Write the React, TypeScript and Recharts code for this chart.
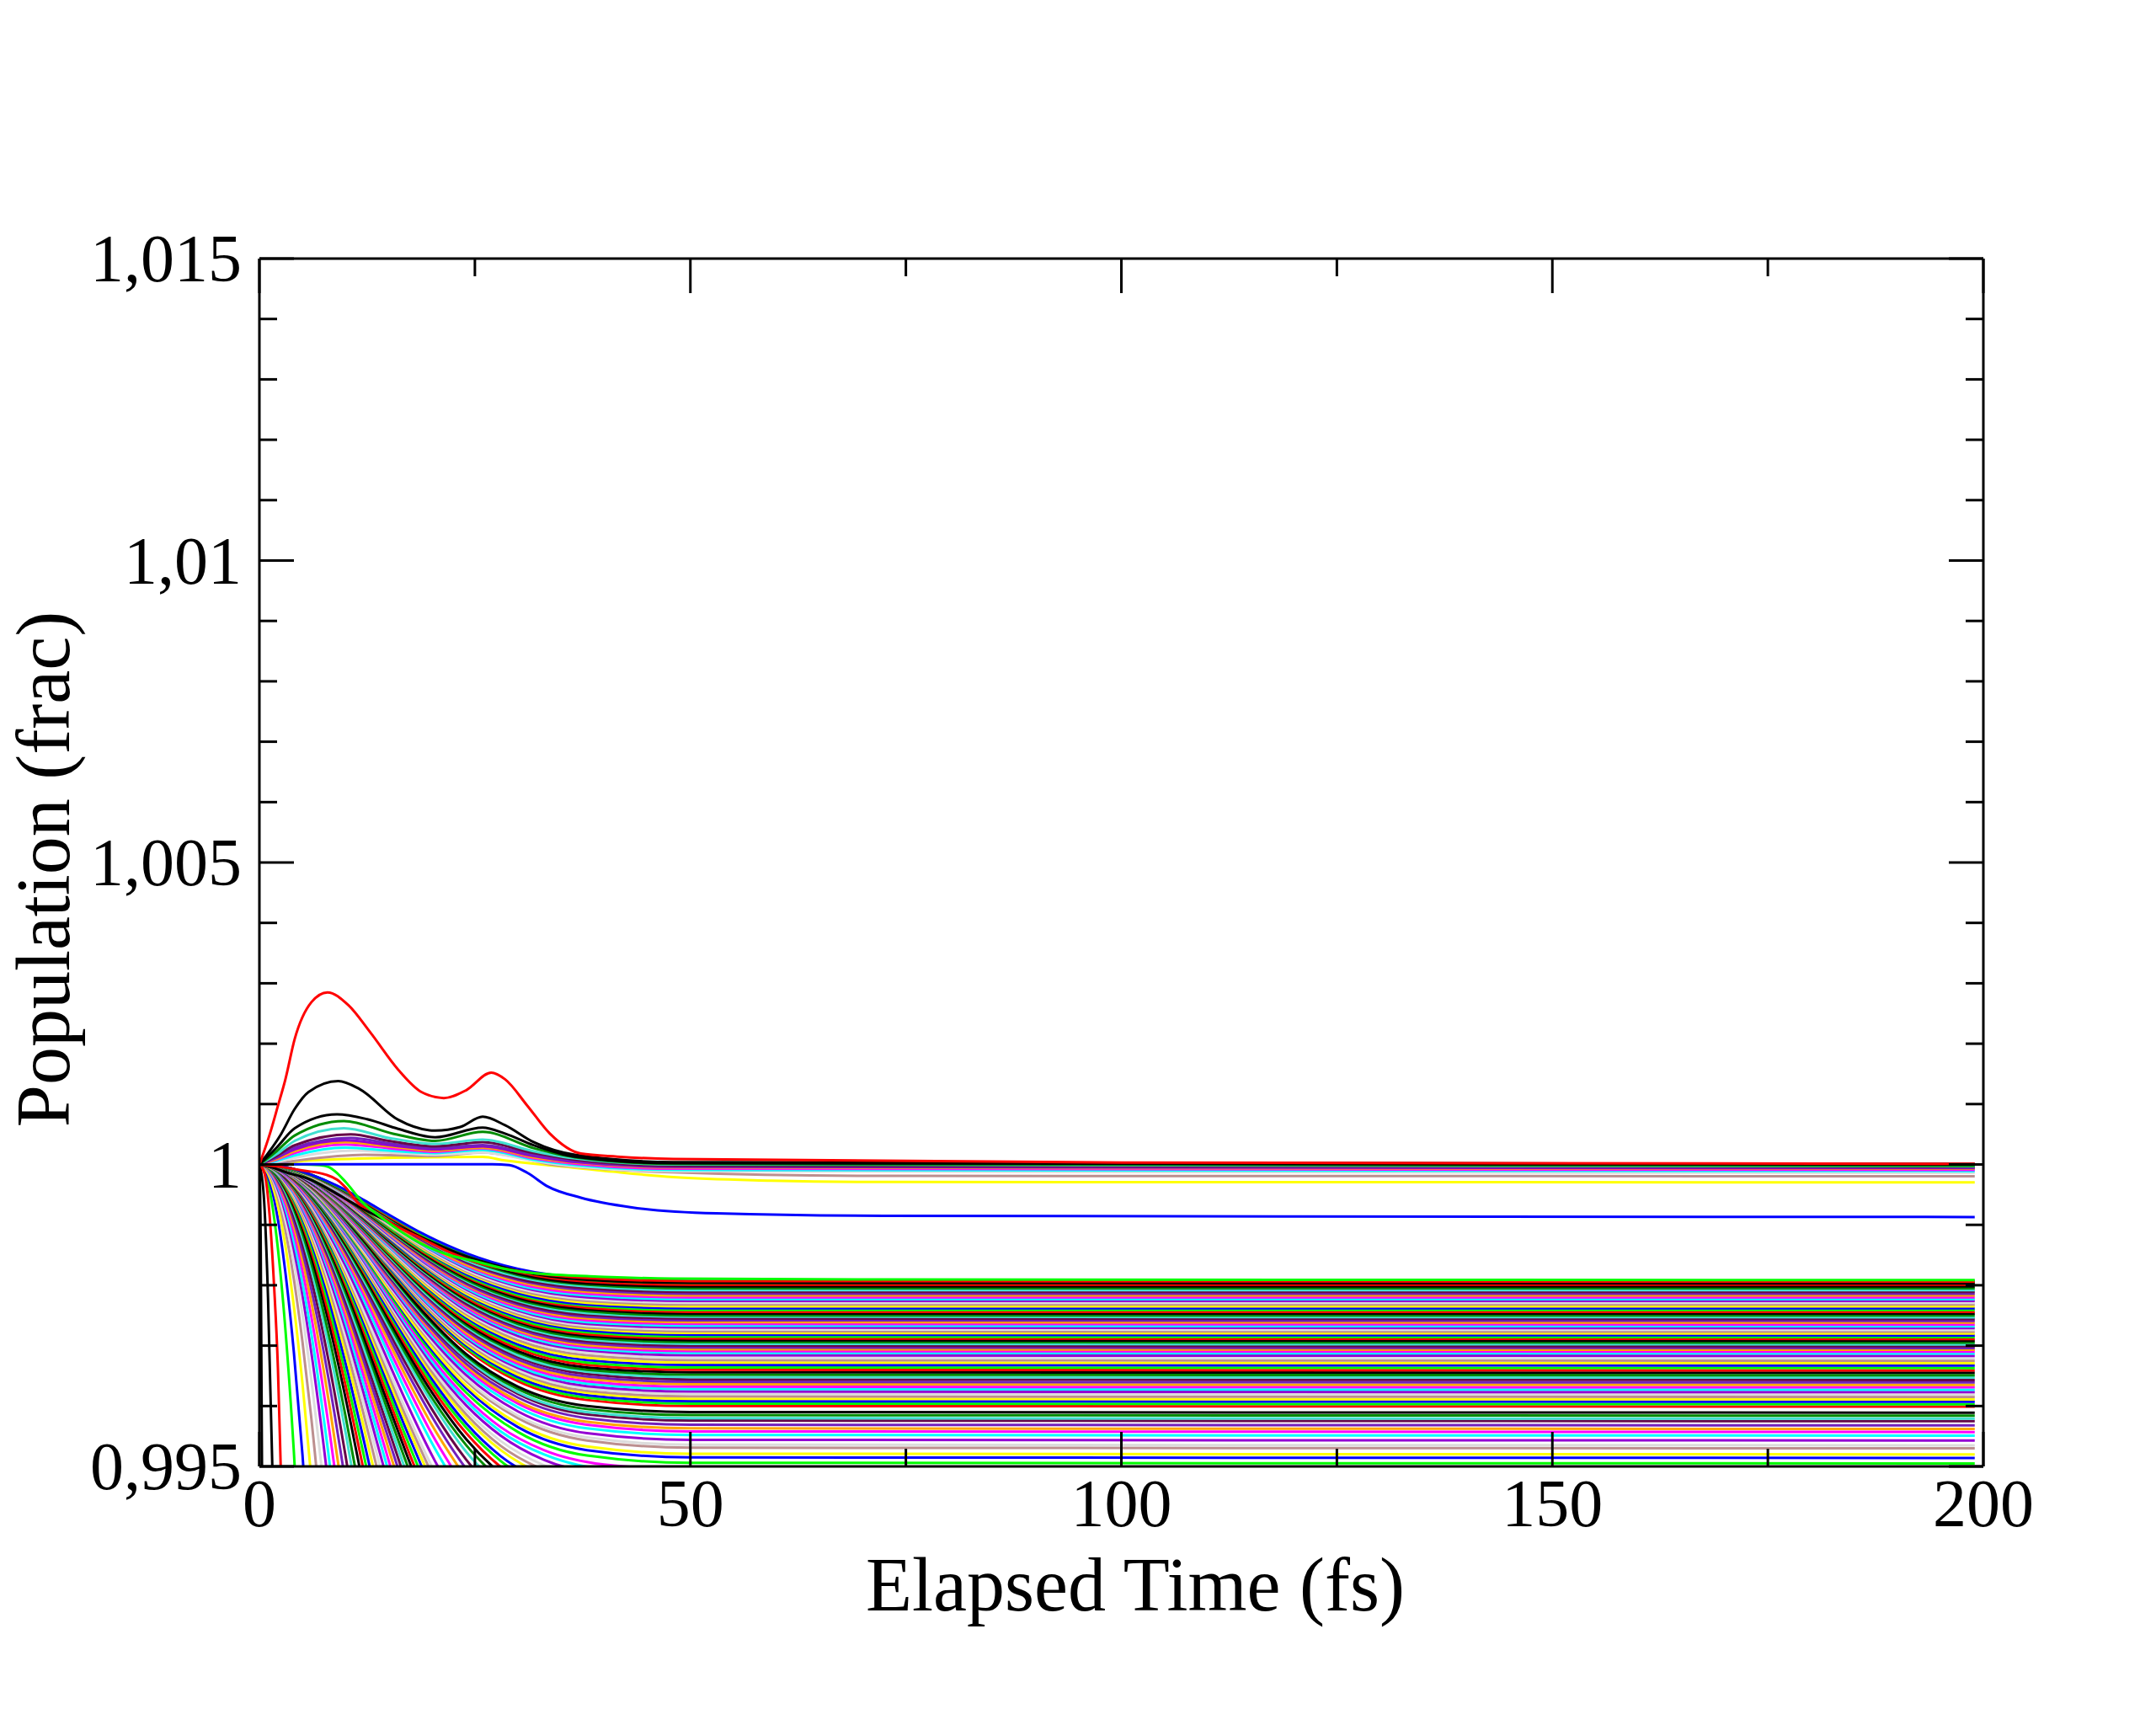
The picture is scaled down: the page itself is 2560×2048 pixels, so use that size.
import React from 'react';
import { LineChart, Line, XAxis, YAxis } from 'recharts';

const W = 2560;
const H = 2048;
const FONT = '"Liberation Serif", "Times New Roman", serif';

// xmgrace default colour map (black .. green4)
const palette = [
  '#000000', '#ff0000', '#00ff00', '#0000ff', '#ffff00', '#bc8f8f', '#dcdcdc', '#9400d3',
  '#00ffff', '#ff00ff', '#ffa500', '#7220bc', '#670748', '#40e0d0', '#008b00',
];

const xTicks = [0, 25, 50, 75, 100, 125, 150, 175, 200];
const xLabels = ['0', '', '50', '', '100', '', '150', '', '200'];
const yTicks = [
  0.995, 0.996, 0.997, 0.998, 0.999, 1, 1.001, 1.002, 1.003, 1.004, 1.005,
  1.006, 1.007, 1.008, 1.009, 1.01, 1.011, 1.012, 1.013, 1.014, 1.015,
];
const yLabels = [
  '0,995', '', '', '', '', '1', '', '', '', '', '1,005',
  '', '', '', '', '1,01', '', '', '', '', '1,015',
];

// populations that settle inside the window, deficit below 1 in units of 1e-5
const plateauTimes = [0, 3, 6, 9, 12, 15, 19, 24, 30, 38, 50, 199];
const plateauRows = [
  [0, 11, 43, 91, 150, 213, 294, 378, 443, 482, 494, 495],
  [0, 11, 42, 89, 147, 209, 289, 371, 435, 473, 485, 486],
  [0, 11, 41, 88, 145, 207, 285, 366, 429, 467, 479, 480],
  [0, 10, 40, 86, 142, 202, 279, 359, 420, 457, 469, 470],
  [0, 10, 40, 85, 141, 200, 276, 355, 416, 452, 464, 465],
  [0, 10, 39, 84, 138, 197, 272, 349, 409, 445, 456, 457],
  [0, 10, 39, 82, 136, 193, 267, 343, 402, 437, 448, 449],
  [0, 10, 38, 81, 134, 191, 263, 338, 396, 431, 442, 443],
  [0, 10, 38, 80, 132, 188, 260, 334, 392, 426, 437, 438],
  [0, 10, 37, 79, 131, 186, 257, 330, 386, 420, 431, 432],
  [0, 9, 37, 78, 128, 183, 253, 324, 380, 414, 424, 425],
  [0, 9, 36, 77, 127, 181, 250, 321, 377, 410, 420, 421],
  [0, 9, 36, 76, 126, 179, 247, 317, 372, 405, 415, 416],
  [0, 9, 35, 75, 124, 177, 244, 314, 368, 400, 410, 411],
  [0, 9, 35, 74, 121, 173, 238, 306, 359, 390, 400, 401],
  [0, 9, 34, 73, 120, 171, 236, 303, 355, 386, 396, 397],
  [0, 9, 34, 72, 119, 169, 234, 300, 352, 382, 392, 393],
  [0, 9, 33, 71, 118, 167, 231, 297, 348, 378, 388, 389],
  [0, 9, 33, 71, 116, 166, 229, 294, 344, 375, 384, 385],
  [0, 8, 33, 70, 115, 164, 226, 291, 341, 371, 380, 381],
  [0, 8, 32, 69, 114, 162, 224, 288, 337, 367, 376, 377],
  [0, 8, 32, 68, 113, 160, 222, 285, 334, 363, 372, 373],
  [0, 8, 32, 68, 112, 159, 219, 282, 330, 359, 368, 369],
  [0, 8, 31, 67, 110, 157, 217, 279, 327, 355, 364, 365],
  [0, 8, 31, 66, 109, 155, 215, 275, 323, 351, 360, 361],
  [0, 8, 31, 65, 108, 154, 212, 272, 319, 347, 356, 357],
  [0, 8, 30, 65, 107, 152, 210, 269, 316, 343, 352, 353],
  [0, 8, 30, 64, 106, 150, 207, 266, 312, 340, 348, 349],
  [0, 8, 30, 63, 104, 148, 205, 263, 309, 336, 344, 345],
  [0, 8, 29, 63, 103, 147, 203, 260, 305, 332, 340, 341],
  [0, 7, 29, 62, 102, 145, 200, 257, 301, 328, 336, 337],
  [0, 7, 29, 61, 101, 143, 198, 254, 298, 324, 332, 333],
  [0, 7, 28, 60, 99, 142, 196, 251, 294, 320, 328, 329],
  [0, 7, 28, 60, 98, 140, 193, 248, 291, 316, 324, 325],
  [0, 7, 28, 59, 97, 138, 191, 245, 287, 312, 320, 321],
  [0, 7, 27, 58, 96, 136, 188, 242, 284, 308, 316, 317],
  [0, 7, 27, 57, 95, 135, 186, 239, 280, 305, 312, 313],
  [0, 7, 27, 57, 94, 133, 184, 237, 277, 302, 309, 310],
  [0, 7, 26, 56, 93, 132, 182, 234, 275, 299, 306, 307],
  [0, 7, 26, 56, 92, 131, 181, 232, 272, 296, 303, 304],
  [0, 7, 26, 55, 91, 129, 179, 230, 269, 293, 300, 301],
  [0, 7, 26, 55, 90, 128, 177, 227, 267, 290, 297, 298],
  [0, 7, 25, 54, 89, 127, 175, 225, 264, 287, 294, 295],
  [0, 6, 25, 54, 88, 126, 174, 223, 261, 284, 291, 292],
  [0, 6, 25, 53, 87, 124, 172, 221, 259, 281, 288, 289],
  [0, 6, 25, 52, 86, 123, 170, 218, 256, 278, 285, 286],
  [0, 6, 24, 52, 86, 122, 168, 216, 253, 275, 282, 283],
  [0, 6, 24, 51, 85, 120, 166, 214, 250, 272, 279, 280],
  [0, 6, 24, 51, 84, 119, 165, 211, 248, 270, 276, 277],
  [0, 6, 24, 50, 83, 118, 163, 209, 245, 267, 273, 274],
  [0, 6, 23, 50, 82, 117, 161, 207, 242, 264, 270, 271],
  [0, 6, 23, 49, 81, 115, 159, 205, 240, 261, 267, 268],
  [0, 6, 23, 49, 80, 114, 158, 202, 237, 258, 264, 265],
  [0, 6, 23, 48, 79, 113, 156, 200, 234, 255, 261, 262],
  [0, 6, 22, 47, 78, 111, 154, 198, 232, 252, 258, 259],
  [0, 6, 22, 47, 77, 110, 152, 195, 229, 249, 255, 256],
  [0, 6, 22, 46, 76, 109, 150, 193, 226, 246, 252, 253],
  [0, 6, 22, 46, 76, 108, 149, 191, 224, 243, 250, 250],
  [0, 5, 21, 45, 75, 106, 147, 188, 221, 240, 247, 247],
  [0, 5, 21, 45, 74, 105, 145, 186, 218, 237, 244, 244],
  [0, 5, 21, 44, 73, 104, 143, 184, 216, 234, 241, 241],
  [0, 5, 20, 44, 72, 102, 141, 182, 213, 232, 238, 238],
  [0, 5, 20, 43, 71, 101, 140, 179, 210, 229, 235, 235],
  [0, 5, 20, 43, 70, 100, 138, 177, 208, 226, 232, 232],
  [0, 5, 20, 42, 69, 99, 136, 175, 205, 223, 229, 229],
  [0, 5, 19, 41, 68, 97, 134, 172, 202, 220, 226, 226],
  [0, 5, 19, 41, 67, 96, 133, 170, 200, 217, 223, 223],
  [0, 5, 19, 40, 67, 95, 131, 168, 197, 214, 220, 220],
  [0, 5, 19, 40, 66, 93, 129, 166, 194, 211, 217, 217],
  [0, 5, 18, 39, 65, 92, 127, 163, 191, 208, 214, 214],
  [0, 5, 18, 39, 64, 91, 125, 161, 189, 205, 211, 211],
  [0, 5, 18, 38, 63, 89, 124, 159, 186, 202, 208, 208],
  [0, 5, 18, 38, 62, 88, 122, 156, 183, 199, 205, 205],
  [0, 4, 17, 37, 61, 87, 120, 154, 181, 197, 202, 202],
  [0, 4, 17, 36, 60, 86, 118, 152, 178, 194, 199, 199],
  [0, 4, 17, 36, 59, 84, 117, 150, 175, 191, 196, 196],
  [0, 4, 17, 35, 58, 83, 115, 147, 173, 188, 193, 193],
];

// populations that leave the window through the bottom (deficit, 1e-5)
const fanTimes = [0, 1, 2, 3, 4, 5, 6, 8, 10, 12, 14, 17, 20, 24, 28, 33, 40, 48, 58];
const fanRows = [
  [0, 30, 121, 270, 476, 736],
  [0, 20, 79, 177, 311, 481, 684],
  [0, 15, 60, 133, 235, 363, 516, 887],
  [0, 12, 48, 108, 190, 294, 417, 717],
  [0, 10, 41, 92, 161, 249, 354, 608, 910],
  [0, 9, 36, 80, 141, 217, 309, 530, 793],
  [0, 8, 32, 72, 127, 196, 278, 478, 715],
  [0, 7, 29, 65, 114, 176, 250, 429, 641],
  [0, 7, 26, 58, 103, 159, 226, 388, 580],
  [0, 6, 24, 53, 94, 145, 205, 353, 528, 721],
  [0, 5, 22, 49, 86, 132, 188, 323, 483, 660],
  [0, 5, 20, 45, 79, 122, 173, 297, 444, 607],
  [0, 5, 19, 42, 74, 114, 162, 279, 417, 570],
  [0, 4, 17, 39, 69, 106, 151, 259, 387, 529],
  [0, 4, 16, 37, 65, 100, 142, 245, 366, 500, 641],
  [0, 4, 16, 35, 61, 95, 135, 232, 347, 474, 607],
  [0, 4, 15, 33, 58, 90, 128, 220, 329, 450, 576],
  [0, 4, 14, 32, 56, 86, 122, 209, 313, 428, 549],
  [0, 3, 13, 30, 53, 82, 116, 200, 299, 408, 523],
  [0, 3, 13, 29, 51, 78, 111, 191, 286, 390, 500, 664],
  [0, 3, 12, 28, 48, 75, 106, 183, 273, 374, 479, 636],
  [0, 3, 12, 26, 47, 72, 102, 175, 262, 359, 459, 610],
  [0, 3, 11, 25, 45, 69, 98, 169, 252, 345, 442, 587],
  [0, 3, 11, 24, 43, 66, 94, 162, 243, 332, 425, 564],
  [0, 3, 11, 24, 41, 64, 91, 156, 234, 320, 410, 544],
  [0, 3, 10, 23, 40, 62, 88, 151, 226, 309, 396, 525],
  [0, 2, 10, 22, 39, 60, 85, 146, 219, 299, 383, 508, 625],
  [0, 2, 10, 21, 38, 58, 82, 142, 212, 289, 371, 492, 605],
  [0, 2, 9, 21, 36, 56, 80, 137, 205, 281, 360, 477, 587],
  [0, 2, 9, 20, 35, 55, 78, 133, 199, 272, 349, 464, 570],
  [0, 2, 9, 19, 34, 53, 75, 130, 194, 265, 339, 451, 554],
  [0, 2, 8, 19, 33, 52, 73, 126, 188, 258, 330, 438, 539],
  [0, 2, 8, 18, 33, 50, 71, 123, 184, 251, 322, 427, 525],
  [0, 2, 8, 18, 32, 49, 70, 120, 179, 245, 314, 417, 512],
  [0, 2, 8, 18, 31, 48, 68, 117, 175, 239, 306, 407, 500, 604],
  [0, 2, 8, 17, 30, 46, 65, 113, 168, 230, 295, 392, 481, 581],
  [0, 2, 7, 16, 29, 44, 63, 108, 161, 221, 283, 376, 461, 557],
  [0, 2, 7, 16, 28, 43, 61, 104, 156, 213, 274, 363, 446, 539],
  [0, 2, 7, 15, 27, 41, 59, 101, 151, 206, 264, 351, 431, 520],
  [0, 2, 7, 15, 26, 40, 57, 98, 146, 200, 256, 340, 417, 504, 567],
  [0, 2, 6, 14, 25, 39, 55, 95, 142, 194, 248, 330, 405, 489, 551],
  [0, 2, 6, 14, 24, 38, 54, 92, 138, 189, 242, 321, 394, 476, 536],
  [0, 2, 6, 14, 24, 37, 53, 90, 135, 184, 236, 314, 386, 465, 524],
  [0, 1, 6, 13, 23, 36, 51, 88, 132, 180, 231, 307, 377, 455, 512, 557],
  [0, 1, 6, 13, 23, 35, 50, 86, 129, 176, 226, 300, 369, 445, 501, 545],
  [0, 1, 6, 13, 22, 35, 49, 85, 127, 173, 222, 294, 362, 436, 491, 534],
  [0, 1, 6, 13, 22, 34, 48, 83, 124, 170, 218, 289, 355, 429, 483, 525],
  [0, 1, 5, 12, 22, 33, 47, 81, 122, 167, 213, 283, 348, 420, 473, 515],
  [0, 1, 5, 12, 21, 33, 47, 80, 120, 164, 210, 279, 343, 414, 466, 506, 532],
  [0, 1, 5, 12, 21, 32, 46, 79, 118, 161, 206, 274, 337, 407, 458, 498, 523],
  [0, 1, 5, 12, 21, 32, 45, 77, 116, 158, 203, 269, 331, 399, 449, 489, 513, 521],
  [0, 1, 5, 11, 20, 31, 44, 76, 114, 155, 199, 264, 325, 392, 442, 480, 505, 512],
  [0, 1, 5, 11, 20, 31, 44, 75, 112, 153, 196, 260, 320, 386, 435, 473, 497, 504, 506],
];

// the three fastest drops next to the axis: [time, deficit]
const steepCurves = [
  [[0, 0], [0.15, 125], [0.3, 500], [0.45, 1120]],
  [[0, 0], [0.5, 50], [1, 220], [1.5, 500], [1.9, 800]],
  [[0, 0], [0.6, 15], [1.17, 82], [1.7, 200], [2.15, 338], [2.47, 499], [2.9, 720]],
];
const steepColors = ['#000000', '#000000', '#ff0000'];

// upper edge of the lower bundle: [time, deficit]
const edgeCurves = [
  [[0, 0], [1.5, 5], [3.1, 13], [5.7, 24], [8.3, 43], [10.6, 62], [12.2, 75], [15, 95], [19, 122], [24, 152], [30, 176], [38, 191], [50, 196], [199, 197]],
  [[0, 0], [2.5, 4], [5.1, 10], [7.7, 17], [9, 25], [10, 38], [11.6, 66], [12.9, 75], [15.5, 99], [18.75, 122], [22, 145], [25.3, 163], [28.5, 173], [31.8, 180], [38, 188], [50, 193], [199, 194]],
  [[0, 0], [5, 0], [7, 1], [8, 4], [9, 14], [10, 29], [12.2, 66], [13.9, 85], [16.1, 108], [18.75, 131], [22, 150], [25.3, 161], [28.5, 173], [31.8, 180], [38.3, 185], [48, 189], [72, 190.5], [199, 191.5]],
];
const edgeColors = ['#000000', '#ff0000', '#00ff00'];

// populations that rise above 1: [time, excess] in units of 1e-5
const upperCurves = [
  [[0, 0], [3, 2], [5.7, 6.5], [15.5, 11], [25.9, 12.5], [28.5, 6.5], [33.4, -1], [35, -3], [41, -12], [48, -21], [59.4, -26.7], [72.5, -29], [199, -29.7]],
  [[0, 0], [2, 2], [4.1, 6], [12.2, 16], [20.4, 14], [25.9, 20], [30, 12], [33.4, 1], [36.6, -4], [48, -13], [72.5, -19], [199, -19.5]],
  [[0, 0], [2, 4], [4.1, 11], [11, 23], [15, 20], [20.4, 16], [25.9, 20], [31.8, 6], [36.6, -3], [48, -11], [199, -14]],
  [[0, 0], [2, 6], [4.1, 15], [10, 28], [15, 23], [20.4, 19], [25.9, 24], [31.8, 8], [36.6, -1], [48, -9], [199, -11]],
  [[0, 0], [2, 8], [4.1, 19], [10, 33], [15, 27], [20.4, 21], [25.9, 27], [31.8, 10], [36.6, 1], [48, -7], [199, -9]],
  [[0, 0], [2, 9], [4.1, 22], [10, 37], [15, 30], [20.4, 23], [25.9, 28], [31.8, 12], [36.6, 3], [48, -5], [199, -7]],
  [[0, 0], [2, 11], [4.1, 25], [10, 40], [15, 32], [20.4, 25], [25.9, 30], [31.8, 14], [36.6, 4], [48, -4], [199, -6]],
  [[0, 0], [2, 12], [4.1, 28], [10.6, 44], [15, 35], [20.4, 27], [25.9, 32], [31.8, 16], [36.6, 6], [48, -3], [199, -5]],
  [[0, 0], [2, 14], [4.1, 32], [10.6, 50], [15, 39], [20.4, 30], [25.9, 37], [31.8, 19], [36.6, 8], [48, -2], [199, -4]],
  [[0, 0], [2, 17], [4.1, 39], [9.8, 60], [15, 44], [20.4, 34], [25.9, 41], [31.8, 22], [36.6, 10], [48, 0], [199, -3]],
  [[0, 0], [2, 22], [4.1, 48], [9.8, 72], [15.5, 51], [20.4, 39], [25.9, 54], [31.8, 27], [36.6, 12], [48, 1], [199, -2]],
  [[0, 0], [2, 28], [4.1, 60], [9, 83], [12.5, 75], [16.1, 59], [20.4, 45], [25.9, 61], [28.5, 51], [31.8, 32], [36.6, 13], [48, 2], [199, 0]],
  [[0, 0], [2.5, 50], [4.1, 92], [5.7, 120], [9.15, 138], [11.6, 125], [16.1, 74], [20.4, 56], [23.3, 62], [25.9, 79], [28.5, 65], [31.8, 37], [36.6, 16], [48, 4], [199, 1]],
  [[0, 0], [3, 0.5], [27, 0.5], [29, -1], [31.1, -14], [33.4, -36], [37.3, -55], [43.2, -71], [53, -81], [72.5, -85], [199, -87]],
  [[0, 0], [1.2, 50], [2.15, 97], [3, 140], [4.1, 208], [6.05, 269], [7.9, 285], [10.3, 264], [12.9, 218], [16.1, 157], [18.8, 120], [21.4, 110], [24, 123], [26.9, 152], [28.5, 141], [31.1, 97], [33.7, 51], [37.3, 18], [41.5, 13], [48, 9], [100, 3], [199, 1]],
];
const upperColors = [
  '#ffff00', '#bc8f8f', '#dcdcdc', '#00ffff', '#ff00ff', '#ffa500', '#9400d3', '#7220bc',
  '#670748', '#40e0d0', '#008b00', '#000000', '#000000', '#0000ff', '#ff0000',
];

type Pt = { t: number; v: number };
type Series = { key: string; color: string; data: Pt[] };

const below = (t: number, d: number): Pt => ({ t, v: 1 - d / 100000 });
const above = (t: number, e: number): Pt => ({ t, v: 1 + e / 100000 });

const series: Series[] = [
  ...fanRows.map((row, i) => ({
    key: `fan-${i}`,
    color: palette[(i + 2) % palette.length],
    data: row.map((d, j) => below(fanTimes[j], d)),
  })),
  ...steepCurves.map((pts, i) => ({
    key: `steep-${i}`,
    color: steepColors[i],
    data: pts.map(([t, d]) => below(t, d)),
  })),
  ...plateauRows.map((row, i) => ({
    key: `plateau-${i}`,
    color: palette[(i + 2) % palette.length],
    data: row.map((d, j) => below(plateauTimes[j], d)),
  })),
  ...edgeCurves.map((pts, i) => ({
    key: `edge-${i}`,
    color: edgeColors[i],
    data: pts.map(([t, d]) => below(t, d)),
  })),
  ...upperCurves.map((pts, i) => ({
    key: `upper-${i}`,
    color: upperColors[i],
    data: pts.map(([t, e]) => above(t, e)),
  })),
];

const MAJOR = 41;
const MINOR = 21;

const findY = (v: number) => yTicks.findIndex((y) => Math.abs(y - v) < 1e-9);

function BottomTick(props: any) {
  const { x, y, payload } = props;
  const label = xLabels[xTicks.indexOf(payload.value)];
  const len = label ? MAJOR : MINOR;
  return (
    <g>
      <line x1={x} x2={x} y1={y} y2={y - len} stroke="#000" strokeWidth={3} />
      {label ? (
        <text x={x} y={y + 71} textAnchor="middle" fontFamily={FONT} fontSize={80} fill="#000">
          {label}
        </text>
      ) : null}
    </g>
  );
}

function TopTick(props: any) {
  const { x, y, payload } = props;
  const len = xLabels[xTicks.indexOf(payload.value)] ? MAJOR : MINOR;
  return <line x1={x} x2={x} y1={y} y2={y + len} stroke="#000" strokeWidth={3} />;
}

function LeftTick(props: any) {
  const { x, y, payload } = props;
  const label = yLabels[findY(payload.value)];
  const len = label ? MAJOR : MINOR;
  return (
    <g>
      <line x1={x} x2={x + len} y1={y} y2={y} stroke="#000" strokeWidth={3} />
      {label ? (
        <text x={x - 21} y={y + 27} textAnchor="end" fontFamily={FONT} fontSize={80} fill="#000">
          {label}
        </text>
      ) : null}
    </g>
  );
}

function RightTick(props: any) {
  const { x, y, payload } = props;
  const len = yLabels[findY(payload.value)] ? MAJOR : MINOR;
  return <line x1={x} x2={x - len} y1={y} y2={y} stroke="#000" strokeWidth={3} />;
}

const frame = { stroke: '#000', strokeWidth: 3 };

export default function App() {
  const last = series.length - 1;
  return (
    <div style={{ position: 'absolute', left: 0, top: 0, width: W, height: H, background: '#fff' }}>
      <LineChart width={W} height={H} margin={{ top: 306, right: 204, bottom: 0, left: 0 }}>
        <XAxis
          xAxisId="b"
          dataKey="t"
          type="number"
          domain={[0, 200]}
          ticks={xTicks}
          interval={0}
          height={307}
          allowDataOverflow
          axisLine={frame}
          tickLine={false}
          tickSize={0}
          tickMargin={0}
          tick={(p: any) => <BottomTick {...p} />}
        />
        <XAxis
          xAxisId="t"
          dataKey="t"
          orientation="top"
          type="number"
          domain={[0, 200]}
          ticks={xTicks}
          interval={0}
          height={1}
          allowDataOverflow
          axisLine={frame}
          tickLine={false}
          tickSize={0}
          tickMargin={0}
          tick={(p: any) => <TopTick {...p} />}
        />
        <YAxis
          yAxisId="l"
          type="number"
          domain={[0.995, 1.015]}
          ticks={yTicks}
          interval={0}
          width={308}
          allowDataOverflow
          axisLine={frame}
          tickLine={false}
          tickSize={0}
          tickMargin={0}
          tick={(p: any) => <LeftTick {...p} />}
        />
        <YAxis
          yAxisId="r"
          orientation="right"
          type="number"
          domain={[0.995, 1.015]}
          ticks={yTicks}
          interval={0}
          width={1}
          allowDataOverflow
          axisLine={frame}
          tickLine={false}
          tickSize={0}
          tickMargin={0}
          tick={(p: any) => <RightTick {...p} />}
        />
        {series.map((s, i) => (
          <Line
            key={s.key}
            xAxisId={i === last ? 't' : 'b'}
            yAxisId={i === last ? 'r' : 'l'}
            data={s.data}
            dataKey="v"
            type="monotone"
            stroke={s.color}
            strokeWidth={3}
            dot={false}
            activeDot={false}
            isAnimationActive={false}
          />
        ))}
      </LineChart>
      <svg width={W} height={H} style={{ position: 'absolute', left: 0, top: 0, pointerEvents: 'none' }}>
        <text x={1348} y={1912} textAnchor="middle" fontFamily={FONT} fontSize={90} fill="#000">
          Elapsed Time (fs)
        </text>
        <text transform="translate(82,1032) rotate(-90)" textAnchor="middle" fontFamily={FONT} fontSize={90} fill="#000">
          Population (frac)
        </text>
      </svg>
    </div>
  );
}
